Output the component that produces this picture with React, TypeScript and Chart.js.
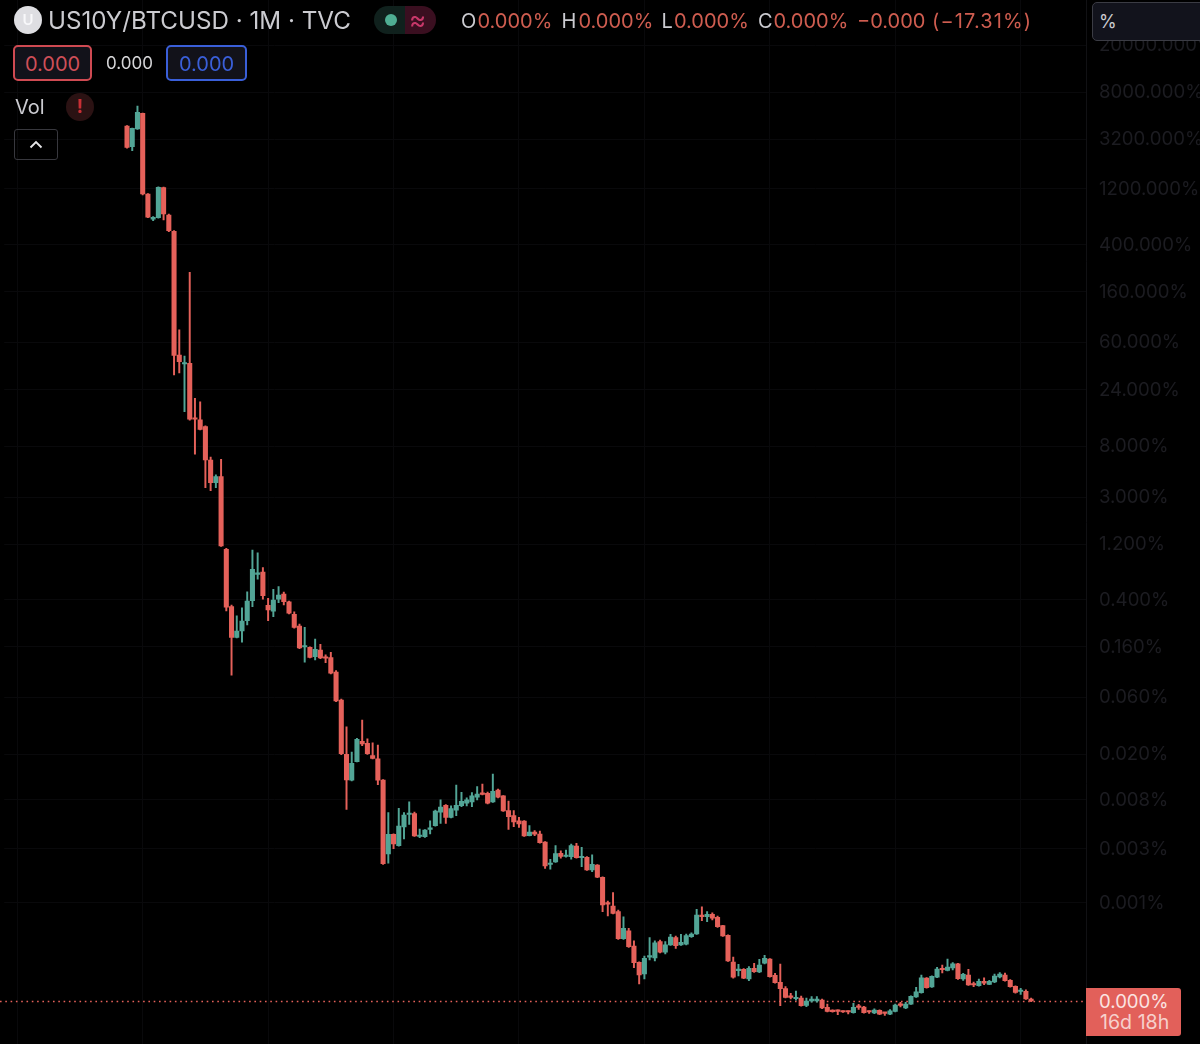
import React, { useEffect, useRef } from 'react';
import { Chart, registerables } from 'chart.js';

Chart.register(...registerables);

// all candle values are log10 of the percent value, the scale is logarithmic
const logOpen = [3.613, 3.437, 3.587, 3.721, 3.034, 2.819, 2.832, 3.088, 2.855, 2.717, 1.664, 1.587, 1.593, 1.125, 1.111, 1.054, 0.77, 0.577, 0.628, 0.01, -0.478, -0.739, -0.685, -0.597, -0.427, -0.203, -0.183, -0.466, -0.517, -0.415, -0.37, -0.436, -0.543, -0.643, -0.821, -0.824, -0.904, -0.847, -0.909, -0.912, -1.034, -1.272, -1.734, -1.955, -1.797, -1.624, -1.641, -1.746, -1.774, -1.953, -2.583, -2.415, -2.512, -2.353, -2.247, -2.238, -2.434, -2.436, -2.373, -2.342, -2.226, -2.169, -2.271, -2.209, -2.172, -2.151, -2.14, -2.1, -2.064, -2.066, -2.14, -2.038, -2.089, -2.214, -2.257, -2.3, -2.302, -2.427, -2.396, -2.413, -2.481, -2.672, -2.651, -2.577, -2.604, -2.606, -2.515, -2.615, -2.611, -2.719, -2.677, -2.781, -2.997, -3.026, -3.074, -3.304, -3.236, -3.366, -3.505, -3.604, -3.461, -3.468, -3.329, -3.419, -3.357, -3.295, -3.357, -3.351, -3.287, -3.264, -3.102, -3.117, -3.096, -3.122, -3.193, -3.275, -3.502, -3.576, -3.564, -3.647, -3.556, -3.587, -3.513, -3.477, -3.615, -3.675, -3.729, -3.792, -3.815, -3.809, -3.872, -3.834, -3.834, -3.826, -3.888, -3.913, -3.913, -3.922, -3.922, -3.934, -3.879, -3.885, -3.922, -3.936, -3.913, -3.934, -3.947, -3.922, -3.862, -3.894, -3.86, -3.8, -3.763, -3.638, -3.715, -3.632, -3.559, -3.573, -3.553, -3.517, -3.647, -3.613, -3.687, -3.704, -3.666, -3.692, -3.672, -3.63, -3.613, -3.658, -3.709, -3.753, -3.751, -3.817];
const logHigh = [3.617, 3.596, 3.783, 3.723, 3.038, 2.841, 3.095, 3.092, 2.864, 2.722, 1.877, 1.655, 2.368, 1.295, 1.266, 1.06, 0.796, 0.643, 0.776, 0.019, -0.464, -0.557, -0.489, -0.351, 0.004, -0.019, -0.146, -0.407, -0.33, -0.308, -0.353, -0.43, -0.523, -0.626, -0.654, -0.82, -0.753, -0.798, -0.889, -0.866, -1.023, -1.264, -1.5, -1.715, -1.598, -1.443, -1.602, -1.636, -1.655, -1.949, -2.231, -2.411, -2.194, -2.231, -2.14, -2.226, -2.37, -2.375, -2.3, -2.209, -2.123, -2.162, -2.174, -1.996, -2.058, -2.106, -2.061, -2.01, -1.987, -2.055, -1.902, -2.03, -2.085, -2.132, -2.214, -2.271, -2.298, -2.342, -2.383, -2.387, -2.477, -2.628, -2.512, -2.555, -2.549, -2.498, -2.492, -2.526, -2.606, -2.591, -2.672, -2.777, -2.983, -2.912, -3.06, -3.117, -3.215, -3.323, -3.5, -3.451, -3.295, -3.321, -3.315, -3.329, -3.266, -3.281, -3.266, -3.264, -3.253, -3.054, -3.032, -3.074, -3.083, -3.111, -3.189, -3.27, -3.46, -3.522, -3.559, -3.542, -3.513, -3.479, -3.445, -3.472, -3.598, -3.519, -3.712, -3.768, -3.749, -3.792, -3.809, -3.797, -3.797, -3.817, -3.86, -3.909, -3.909, -3.918, -3.918, -3.854, -3.862, -3.879, -3.918, -3.9, -3.909, -3.93, -3.908, -3.86, -3.845, -3.845, -3.79, -3.717, -3.613, -3.634, -3.619, -3.547, -3.528, -3.477, -3.508, -3.513, -3.598, -3.564, -3.672, -3.647, -3.636, -3.658, -3.604, -3.593, -3.596, -3.651, -3.704, -3.726, -3.74, -3.809];
const logLow = [3.425, 3.403, 3.583, 3.026, 2.832, 2.807, 2.828, 2.813, 2.713, 1.494, 1.511, 1.181, 1.11, 0.819, 1.026, 0.534, 0.509, 0.534, 0.034, -0.515, -1.06, -0.745, -0.781, -0.634, -0.478, -0.243, -0.415, -0.597, -0.563, -0.444, -0.464, -0.54, -0.66, -0.836, -0.951, -0.915, -0.932, -0.92, -0.955, -1.051, -1.287, -1.738, -2.203, -1.962, -1.8, -1.661, -1.736, -1.774, -1.993, -2.672, -2.662, -2.538, -2.517, -2.455, -2.332, -2.434, -2.444, -2.441, -2.413, -2.347, -2.322, -2.322, -2.276, -2.257, -2.18, -2.174, -2.18, -2.123, -2.081, -2.157, -2.145, -2.106, -2.221, -2.373, -2.351, -2.356, -2.434, -2.43, -2.427, -2.491, -2.705, -2.713, -2.655, -2.619, -2.609, -2.628, -2.619, -2.691, -2.723, -2.734, -2.785, -3.074, -3.111, -3.094, -3.309, -3.309, -3.377, -3.551, -3.689, -3.647, -3.485, -3.494, -3.424, -3.434, -3.362, -3.386, -3.362, -3.357, -3.292, -3.268, -3.151, -3.159, -3.145, -3.207, -3.285, -3.498, -3.64, -3.621, -3.645, -3.661, -3.59, -3.592, -3.518, -3.632, -3.683, -3.874, -3.808, -3.817, -3.826, -3.879, -3.883, -3.845, -3.845, -3.899, -3.926, -3.929, -3.951, -3.932, -3.945, -3.938, -3.905, -3.938, -3.939, -3.942, -3.951, -3.956, -3.951, -3.926, -3.885, -3.9, -3.864, -3.804, -3.768, -3.725, -3.719, -3.636, -3.596, -3.577, -3.57, -3.65, -3.658, -3.702, -3.713, -3.708, -3.695, -3.696, -3.677, -3.638, -3.666, -3.717, -3.768, -3.777, -3.821, -3.84];
const logClose = [3.431, 3.593, 3.729, 3.034, 2.836, 2.836, 3.091, 2.864, 2.722, 1.661, 1.607, 1.598, 1.117, 1.117, 1.031, 0.77, 0.577, 0.628, 0.038, -0.483, -0.739, -0.685, -0.6, -0.43, -0.16, -0.194, -0.385, -0.506, -0.421, -0.379, -0.436, -0.534, -0.654, -0.83, -0.813, -0.909, -0.841, -0.915, -0.917, -1.045, -1.281, -1.729, -1.953, -1.811, -1.607, -1.647, -1.729, -1.769, -1.955, -2.666, -2.415, -2.498, -2.345, -2.251, -2.238, -2.43, -2.424, -2.379, -2.364, -2.217, -2.183, -2.271, -2.197, -2.169, -2.134, -2.123, -2.089, -2.072, -2.075, -2.151, -2.049, -2.1, -2.217, -2.266, -2.311, -2.328, -2.43, -2.396, -2.415, -2.487, -2.685, -2.664, -2.58, -2.603, -2.596, -2.512, -2.614, -2.607, -2.719, -2.671, -2.781, -3.017, -3.009, -3.088, -3.304, -3.215, -3.372, -3.508, -3.613, -3.471, -3.453, -3.338, -3.419, -3.355, -3.289, -3.363, -3.334, -3.278, -3.264, -3.102, -3.117, -3.096, -3.13, -3.202, -3.281, -3.494, -3.632, -3.566, -3.64, -3.556, -3.585, -3.528, -3.47, -3.627, -3.678, -3.729, -3.803, -3.803, -3.803, -3.874, -3.834, -3.817, -3.817, -3.894, -3.922, -3.925, -3.922, -3.928, -3.928, -3.888, -3.888, -3.934, -3.928, -3.911, -3.947, -3.939, -3.917, -3.868, -3.871, -3.86, -3.794, -3.757, -3.636, -3.721, -3.624, -3.562, -3.568, -3.545, -3.517, -3.645, -3.607, -3.698, -3.698, -3.666, -3.683, -3.666, -3.621, -3.604, -3.661, -3.712, -3.76, -3.745, -3.817, -3.834];

const tickLabels = ['20000.000%', '8000.000%', '3200.000%', '1200.000%', '400.000%', '160.000%', '60.000%', '24.000%', '8.000%', '3.000%', '1.200%', '0.400%', '0.160%', '0.060%', '0.020%', '0.008%', '0.003%', '0.001%'];
const tickLogValues = [4.302, 3.902, 3.502, 3.077, 2.6, 2.2, 1.774, 1.366, 0.889, 0.455, 0.055, -0.421, -0.821, -1.247, -1.732, -2.123, -2.54, -3];

const emptyBefore = 23;
const emptyAfter = 10;
const firstYear = 2008;
const categories = Array.from({ length: emptyBefore + logClose.length + emptyAfter }, (_, i) => {
  const month = (i % 12) + 1;
  return `${firstYear + Math.floor(i / 12)}-${String(month).padStart(2, '0')}`;
});

const UP = '#52a596';
const DOWN = '#e5615a';

const pad = <T,>(values: T[]) => [...Array(emptyBefore).fill(null), ...values, ...Array(emptyAfter).fill(null)];
const pct = (v: number) => Math.pow(10, v);

const candleColors = pad(logClose.map((c, i) => (c >= logOpen[i] ? UP : DOWN)));
const wicks = pad(logHigh.map((h, i) => [pct(logLow[i]), pct(h)]));
const bodies = pad(logOpen.map((o, i) => [pct(o), pct(logClose[i])]));

const lastPriceLine = {
  id: 'lastPriceLine',
  beforeDatasetsDraw(chart: any) {
    const { ctx, scales, chartArea } = chart;
    const y = Math.round(scales.y.getPixelForValue(pct(logClose[logClose.length - 1]))) + 0.5;
    ctx.save();
    ctx.strokeStyle = DOWN;
    ctx.lineWidth = 1.6;
    ctx.setLineDash([1.6, 3.7]);
    ctx.beginPath();
    ctx.moveTo(0, y);
    ctx.lineTo(chartArea.right, y);
    ctx.stroke();
    ctx.restore();
  },
};

const Label: React.FC<{ x: number; y: number; size: number; color: string; spacing?: number; children: React.ReactNode }> = ({ x, y, size, color, spacing, children }) => (
  <div style={{ position: 'absolute', left: x, top: y, transform: 'translateY(-50%)', fontSize: size, color, lineHeight: 1, whiteSpace: 'nowrap', letterSpacing: spacing }}>{children}</div>
);

const TEXT = '#cbcbd0';
const VALUE = '#cf5d50';

const App: React.FC = () => {
  const canvasRef = useRef<HTMLCanvasElement>(null);

  useEffect(() => {
    const ctx = canvasRef.current?.getContext('2d');
    if (!ctx) return;
    const chart = new Chart(ctx, {
      type: 'bar',
      data: {
        labels: categories,
        datasets: [
          { label: 'Wick', data: wicks as any, backgroundColor: candleColors as any, barThickness: 1.3, grouped: false, order: 2 },
          { label: 'Body', data: bodies as any, backgroundColor: candleColors as any, barThickness: 4.4, grouped: false, order: 1, minBarLength: 1.5 },
        ],
      },
      options: {
        responsive: false,
        animation: false,
        layout: { padding: { left: 4.2, right: 0, top: 0, bottom: 0 } },
        plugins: { legend: { display: false }, tooltip: { enabled: false } },
        scales: {
          x: {
            type: 'category',
            offset: true,
            grid: { color: '#09090b', offset: false, drawTicks: false },
            border: { display: false },
            ticks: { display: false, autoSkip: false },
            afterBuildTicks: (scale: any) => {
              scale.ticks = scale.ticks.filter((t: any) => t.value % 24 === 2);
            },
            afterFit: (scale: any) => {
              scale.height = 0;
              scale.paddingLeft = 0;
              scale.paddingRight = 0;
            },
          },
          y: {
            type: 'logarithmic',
            position: 'right',
            bounds: 'data',
            min: pct(-4.2),
            max: pct(4.685),
            grid: { color: '#09090b', drawTicks: false },
            border: { color: '#111114' },
            afterBuildTicks: (scale: any) => {
              scale.ticks = tickLogValues.map((v) => ({ value: pct(v) }));
            },
            afterFit: (scale: any) => {
              scale.width = 114;
              scale.paddingTop = 0;
              scale.paddingBottom = 0;
            },
            ticks: {
              autoSkip: false,
              padding: 13,
              color: '#1c1c21',
              font: { family: 'Inter', size: 18.6 },
              callback: (_value: any, index: number) => tickLabels[index],
            },
          },
        },
      },
      plugins: [lastPriceLine],
    });
    return () => chart.destroy();
  }, []);

  return (
    <div style={{ position: 'absolute', left: 0, top: 0, width: 1200, height: 1044, overflow: 'hidden', background: '#000', fontFamily: 'Inter, sans-serif' }}>
      <canvas ref={canvasRef} width={1200} height={1044} style={{ position: 'absolute', left: 0, top: 0 }} />

      <div style={{ position: 'absolute', left: 14, top: 6, width: 28, height: 28, borderRadius: 14, background: '#dedee2', color: '#f8f8fa', fontSize: 15, fontWeight: 600, lineHeight: '28px', textAlign: 'center' }}>U</div>
      <Label x={48} y={21} size={24.2} color={TEXT}>US10Y/BTCUSD · 1M · TVC</Label>

      <div style={{ position: 'absolute', left: 374, top: 6, width: 31, height: 28, background: '#10211d', borderRadius: '14px 0 0 14px' }} />
      <div style={{ position: 'absolute', left: 385, top: 14, width: 12, height: 12, borderRadius: 6, background: '#4fae93' }} />
      <div style={{ position: 'absolute', left: 405, top: 6, width: 31, height: 28, background: '#3a0f20', borderRadius: '0 14px 14px 0' }} />
      <Label x={409} y={20} size={26} color="#c8386a">≈</Label>

      <Label x={461} y={21} size={20} color={TEXT}>O</Label>
      <Label x={477.5} y={21} size={20} color={VALUE}>0.000%</Label>
      <Label x={561.5} y={21} size={20} color={TEXT}>H</Label>
      <Label x={578.5} y={21} size={20} color={VALUE}>0.000%</Label>
      <Label x={661.5} y={21} size={20} color={TEXT}>L</Label>
      <Label x={674} y={21} size={20} color={VALUE}>0.000%</Label>
      <Label x={758} y={21} size={20} color={TEXT}>C</Label>
      <Label x={773.5} y={21} size={20} color={VALUE}>0.000%</Label>
      <Label x={857} y={21} size={20} color={VALUE}>−0.000</Label>
      <Label x={932} y={21} size={20} color={VALUE} spacing={1.1}>(−17.31%)</Label>

      <div style={{ position: 'absolute', left: 1092, top: 2, width: 120, height: 39, boxSizing: 'border-box', background: '#12131c', border: '1.5px solid #3b3c44', borderRadius: 5 }} />
      <Label x={1099} y={22} size={18} color={TEXT}>%</Label>

      <div style={{ position: 'absolute', left: 13, top: 45, width: 79, height: 36, boxSizing: 'border-box', background: '#12121a', border: '2px solid #cf4a52', borderRadius: 5 }} />
      <Label x={25} y={64} size={20} color="#cf4f58">0.000</Label>
      <Label x={106} y={63} size={17} color="#d6d6d8">0.000</Label>
      <div style={{ position: 'absolute', left: 166, top: 45, width: 81, height: 36, boxSizing: 'border-box', background: '#12121a', border: '2px solid #3a5fd9', borderRadius: 5 }} />
      <Label x={179} y={64} size={20} color="#3a5fd9">0.000</Label>

      <Label x={15} y={107} size={20} color={TEXT}>Vol</Label>
      <div style={{ position: 'absolute', left: 66, top: 93, width: 28, height: 28, borderRadius: 14, background: '#2b1213', color: '#c92f35', fontSize: 19, fontWeight: 700, lineHeight: '28px', textAlign: 'center' }}>!</div>

      <div style={{ position: 'absolute', left: 14, top: 129, width: 44, height: 31, boxSizing: 'border-box', border: '1.5px solid #38383e', borderRadius: 3 }} />
      <svg style={{ position: 'absolute', left: 29, top: 140 }} width={14} height={9}>
        <polyline points="1.5,7.5 7,2 12.5,7.5" fill="none" stroke="#e6e6e8" strokeWidth={1.8} />
      </svg>

      <div style={{ position: 'absolute', left: 1086, top: 988, width: 95, height: 48, background: '#e2605a', borderRadius: '0 3px 3px 0' }} />
      <Label x={1099} y={1001} size={18.6} color="#fbe4e2">0.000%</Label>
      <Label x={1100} y={1023} size={19.6} color="#f6d0cc">16d 18h</Label>
    </div>
  );
};

export default App;
